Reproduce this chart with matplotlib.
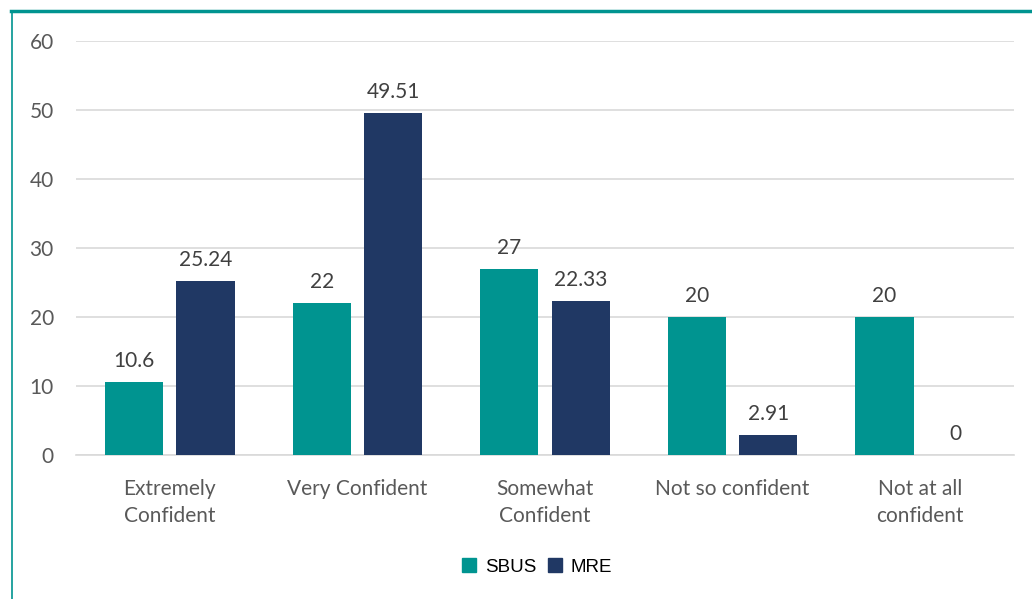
import matplotlib.pyplot as plt
import numpy as np
from matplotlib.lines import Line2D
from matplotlib.patches import Patch

categories = ["Extremely\nConfident", "Very Confident", "Somewhat\nConfident",
              "Not so confident", "Not at all\nconfident"]
sbus = [10.6, 22, 27, 20, 20]
mre = [25.24, 49.51, 22.33, 2.91, 0]
sbus_labels = ["10.6", "22", "27", "20", "20"]
mre_labels = ["25.24", "49.51", "22.33", "2.91", "0"]

teal = "#009490"
navy = "#203864"
gray = "#595959"

fig = plt.figure(figsize=(10.32, 5.99), dpi=100)
ax = fig.add_axes([76 / 1032, 1 - 455 / 599, 938 / 1032, 414 / 599])

x = np.arange(len(categories))
w = 0.31
off = 0.19
ax.bar(x - off, sbus, w, color=teal, zorder=3)
ax.bar(x + off, mre, w, color=navy, zorder=3)

for i in range(len(categories)):
    ax.annotate(sbus_labels[i], (x[i] - off, sbus[i]), xytext=(0, 8),
                textcoords="offset points", ha="center", va="bottom",
                fontsize=15, color="#404040", family="Lato")
    ax.annotate(mre_labels[i], (x[i] + off, mre[i]), xytext=(0, 8),
                textcoords="offset points", ha="center", va="bottom",
                fontsize=15, color="#404040", family="Lato")

ax.set_xlim(-0.5, len(categories) - 0.5)
ax.set_ylim(0, 60)
ax.set_yticks(range(0, 61, 10))
ax.yaxis.grid(True, color="#d9d9d9", linewidth=1.2, zorder=0)
ax.set_xticks(x)
ax.set_xticklabels(categories, linespacing=1.45)
for s in ["top", "right", "left"]:
    ax.spines[s].set_visible(False)
ax.spines["bottom"].set_color("#d9d9d9")
ax.spines["bottom"].set_linewidth(1.2)
ax.tick_params(length=0, labelsize=15, colors=gray)
ax.tick_params(axis="x", pad=17)
ax.tick_params(axis="y", pad=16)
for t in ax.get_xticklabels() + ax.get_yticklabels():
    t.set_family("Lato")

handles = [Patch(color=teal, label="SBUS"), Patch(color=navy, label="MRE")]
fig.legend(handles=handles, loc="center", bbox_to_anchor=(537 / 1032, 1 - 567 / 599),
           ncol=2, frameon=False, prop={"family": "Liberation Sans", "size": 13.5},
           handlelength=0.75, handleheight=0.75, columnspacing=0.6, handletextpad=0.5)

# chart frame lines
fig.add_artist(Line2D([11 / 1032, 1], [1 - 10.5 / 599] * 2, color=teal, linewidth=2.5,
                      transform=fig.transFigure))
fig.add_artist(Line2D([11.5 / 1032] * 2, [0, 1 - 10.5 / 599], color=teal, linewidth=1.2,
                      transform=fig.transFigure))

fig.savefig("out.png", dpi=100)
